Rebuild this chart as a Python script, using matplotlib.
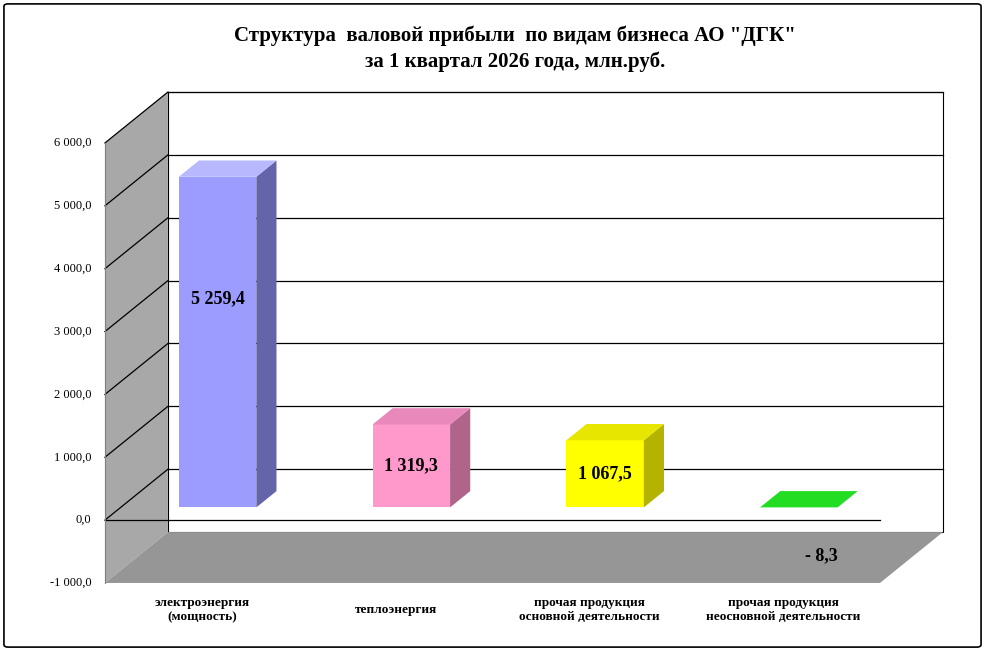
import matplotlib
matplotlib.use("Agg")
import matplotlib.pyplot as plt
from matplotlib.patches import Polygon, FancyBboxPatch

categories = ["электроэнергия\n(мощность)", "теплоэнергия",
              "прочая продукция\nосновной деятельности", "прочая продукция\nнеосновной деятельности"]
values = [5259.4, 1319.3, 1067.5, -8.3]
labels = ["5 259,4", "1 319,3", "1 067,5", "- 8,3"]
ticks = [-1000, 0, 1000, 2000, 3000, 4000, 5000, 6000]
tick_labels = ["-1 000,0", "0,0", "1 000,0", "2 000,0", "3 000,0", "4 000,0", "5 000,0", "6 000,0"]
front = ["#9C9CFF", "#FF99CC", "#FFFF00", "#00CC00"]
side = ["#6464AA", "#B0648A", "#B4B400", "#008C00"]
topc = ["#B8B8FF", "#E888BB", "#E6E600", "#22DD22"]

plt.rcParams['font.family'] = ['Liberation Serif', 'DejaVu Serif']
fig = plt.figure(figsize=(9.85, 6.51), dpi=100)
fig.patches.append(FancyBboxPatch((0.004, 0.006), 0.992, 0.988, boxstyle="round,pad=0,rounding_size=0.004",
                                  transform=fig.transFigure, fill=False, ec="black", lw=1.2))
ax = fig.add_axes([60/985, 21/651, 900/985, 555/651])
ax.set_xlim(-0.232, 4.413)
ax.set_ylim(-1748, 7081)
ax.axis("off")

DX, DY = 0.325, 810
vmin, vmax = -1000, 6000
def P(x, v, d):
    return (x + d*DX, v + d*DY)

# walls
ax.add_patch(Polygon([P(0, vmin, 1), P(4, vmin, 1), P(4, vmax, 1), P(0, vmax, 1)], fc="white", ec="black", lw=0.8))
ax.add_patch(Polygon([P(0, vmin, 0), P(0, vmin, 1), P(0, vmax, 1), P(0, vmax, 0)], fc="#A8A8A8", ec="none"))
ax.add_patch(Polygon([P(0, vmin, 0), P(4, vmin, 0), P(4, vmin, 1), P(0, vmin, 1)], fc="#969696", ec="none"))
for t in ticks[1:]:
    ax.plot(*zip(P(0, t, 1), P(4, t, 1)), color="black", lw=0.9)
    ax.plot(*zip(P(0, t, 0), P(0, t, 1)), color="black", lw=0.9)
ax.plot(*zip(P(0, 0, 0), P(4, 0, 0)), color="black", lw=0.9)
ax.plot(*zip(P(0, vmin, 0), P(0, vmax, 0)), color="#808080", lw=0.8)
for t, tl in zip(ticks, tick_labels):
    ax.text(-0.07, t, tl, ha="right", va="center", fontsize=9)

# bars
w, d0, d1 = 0.4, 0.25, 0.57
for i, v in enumerate(values):
    c = i + 0.5
    xl, xr = c - w/2, c + w/2
    top = max(v, 0)
    if abs(v) > 50:
        ax.bar(c + d0*DX, v, width=w, bottom=d0*DY, color=front[i], edgecolor="none", zorder=3)
        ax.add_patch(Polygon([P(xr, 0, d0), P(xr, 0, d1), P(xr, top, d1), P(xr, top, d0)],
                             fc=side[i], ec="none", zorder=3))
    ax.add_patch(Polygon([P(xl, top, d0), P(xr, top, d0), P(xr, top, d1), P(xl, top, d1)],
                         fc=topc[i], ec="none", zorder=3))
    if abs(v) > 50:
        frac = 0.63 if v > 3000 else 0.5
        ax.text(c + d0*DX, top*frac + d0*DY, labels[i], ha="center", va="center",
                fontsize=13, fontweight="bold", zorder=4)
    else:
        ax.text(c + 0.2, -560, labels[i], ha="center", va="center", fontsize=13, fontweight="bold", zorder=4)
    ax.text(c, -1430, categories[i], ha="center", va="center", fontsize=9.5, fontweight="bold")

fig.text(0.523, 0.925, 'Структура  валовой прибыли  по видам бизнеса АО "ДГК"\nза 1 квартал 2026 года, млн.руб.',
         ha="center", va="center", fontsize=15, fontweight="bold", linespacing=1.3)
fig.savefig("out.png", dpi=100)
